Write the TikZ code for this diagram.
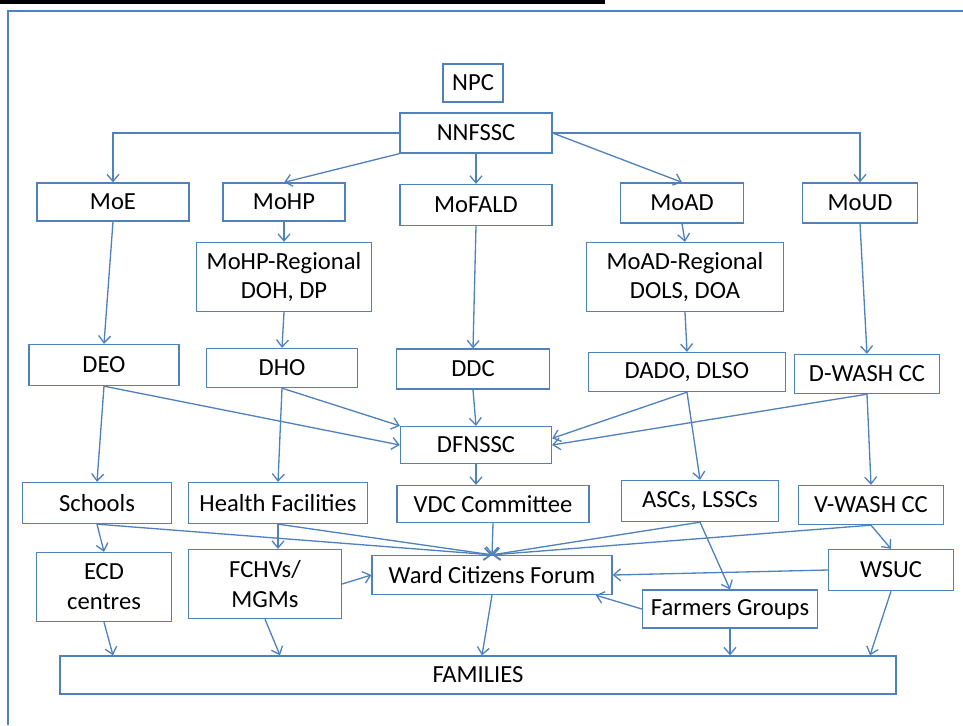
\documentclass[tikz,border=0pt]{standalone}
\usepackage{fontspec}
\setmainfont{Carlito}
\usetikzlibrary{arrows.meta,calc}
\definecolor{officeblue}{RGB}{79,129,189}
\tikzset{
    box/.style={draw=officeblue, line width=0.75pt, fill=white, align=center,
        inner sep=0pt, font=\fontsize{14}{17}\selectfont},
    sz/.style 2 args={minimum width=#1*0.02cm, minimum height=#2*0.02cm},
    link/.style={draw=officeblue, line width=0.75pt,
        -{Straight Barb[length=1.4mm,width=2.4mm]}},
}

\begin{document}
\begin{tikzpicture}[x=0.02cm, y=-0.02cm]
    \useasboundingbox (0,0) rectangle (963,725);
    % Caption rule and frame
    \fill[black] (0,0) rectangle (605,4);
    \draw[officeblue, line width=1.1pt] (8,725) -- (8,11) -- (963,11);

    % National level
    \node[box, sz={60}{38}] (npc) at (473,83) {NPC};
    \node[box, sz={152}{40}] (nnfssc) at (476,133) {NNFSSC};

    % Ministries
    \node[box, sz={152}{38}] (moe) at (113,202) {MoE};
    \node[box, sz={122}{38}] (mohp) at (284,202) {MoHP};
    \node[box, sz={152}{41}] (mofald) at (476,205) {MoFALD};
    \node[box, sz={123}{40}] (moad) at (682,203) {MoAD};
    \node[box, sz={115}{40}] (moud) at (860,203) {MoUD};
    \node[box, sz={175}{69}] (mohpreg) at (284,277) {MoHP-Regional\\DOH, DP};
    \node[box, sz={197}{69}] (moadreg) at (685,277) {MoAD-Regional\\DOLS, DOA};

    % District level
    \node[box, sz={150}{41}] (deo) at (104,365) {DEO};
    \node[box, sz={151}{39}] (dho) at (282,368) {DHO};
    \node[box, sz={153}{40}] (ddc) at (473,369) {DDC};
    \node[box, sz={197}{39}] (dado) at (687,372) {DADO, DLSO};
    \node[box, sz={145}{39}] (dwash) at (867,374) {D-WASH CC};
    \node[box, sz={151}{37}] (dfnssc) at (476,445) {DFNSSC};

    % Village level
    \node[box, sz={149}{41}] (schools) at (97,503) {Schools};
    \node[box, sz={179}{41}] (health) at (278,503) {Health Facilities};
    \node[box, sz={192}{37}] (vdc) at (493,504) {VDC Committee};
    \node[box, sz={157}{41}] (ascs) at (700,501) {ASCs, LSSCs};
    \node[box, sz={145}{39}] (vwash) at (871,505) {V-WASH CC};
    \node[box, sz={135}{69}] (ecd) at (104,587) {ECD\\centres};
    \node[box, sz={153}{69}] (fchv) at (265,584) {FCHVs/\\MGMs};
    \node[box, sz={240}{39}] (wcf) at (492,575) {Ward Citizens Forum};
    \node[box, sz={125}{41}] (wsuc) at (891,570) {WSUC};
    \node[box, sz={175}{38}] (farmers) at (730,609) {Farmers Groups};
    \node[box, sz={836}{38}] (families) at (478,675) {FAMILIES};

    % National to ministries
    \draw[link] (nnfssc.west) -| (moe.north);
    \draw[link] (nnfssc.south west) -- (mohp.north);
    \draw[link] (nnfssc.south) -- (mofald.north);
    \draw[link] (nnfssc.east) -- (moad.north);
    \draw[link] (nnfssc.east) -| (moud.north);

    % Ministries to districts
    \draw[link] (moe.south) -- (deo.north);
    \draw[link] (mohp.south) -- (mohpreg.north);
    \draw[link] (mohpreg.south) -- (dho.north);
    \draw[link] (mofald.south) -- (ddc.north);
    \draw[link] (moad.south) -- (moadreg.north);
    \draw[link] (moadreg.south) -- (dado.north);
    \draw[link] (moud.south) -- (dwash.north);

    % Districts to DFNSSC
    \draw[link] (deo.south) -- (dfnssc.west);
    \draw[link] (dho.south) -- (dfnssc.north west);
    \draw[link] (ddc.south) -- (dfnssc.north);
    \draw[link] (dado.south) -- (dfnssc.5);
    \draw[link] (dwash.south) -- (dfnssc.east);

    % Districts to villages
    \draw[link] (deo.south) -- (schools.north);
    \draw[link] (dho.south) -- (health.north);
    \draw[link] (dfnssc.south) -- (dfnssc.south |- vdc.north);
    \draw[link] (dado.south) -- (ascs.north);
    \draw[link] (dwash.south) -- (vwash.north);

    % Ward Citizens Forum
    \draw[link] (schools.south) -- (wcf.north);
    \draw[link] (health.south) -- (wcf.north);
    \draw[link] (vdc.south) -- (wcf.north);
    \draw[link] (ascs.south) -- (wcf.north);
    \draw[link] (vwash.south) -- (wcf.north);
    \draw[link] (fchv.east) -- (wcf.west);
    \draw[link] (wsuc.west) -- (wcf.east);
    \draw[link] (farmers.west) -- (wcf.-11);

    % Community groups
    \draw[link] (schools.south) -- (ecd.north);
    \draw[link] (health.south) -- (health.south |- fchv.north);
    \draw[link] (ascs.south) -- (farmers.north);
    \draw[link] (vwash.south) -- (wsuc.north);

    % Families
    \draw[link] (ecd.south) -- ($(ecd.south |- families.north)+(9,0)$);
    \draw[link] (fchv.south) -- ($(fchv.south |- families.north)+(15,0)$);
    \draw[link] (wcf.south) -- ($(wcf.south |- families.north)+(-10,0)$);
    \draw[link] (farmers.south) -- (farmers.south |- families.north);
    \draw[link] (wsuc.south) -- ($(wsuc.south |- families.north)+(-21,0)$);
\end{tikzpicture}
\end{document}
